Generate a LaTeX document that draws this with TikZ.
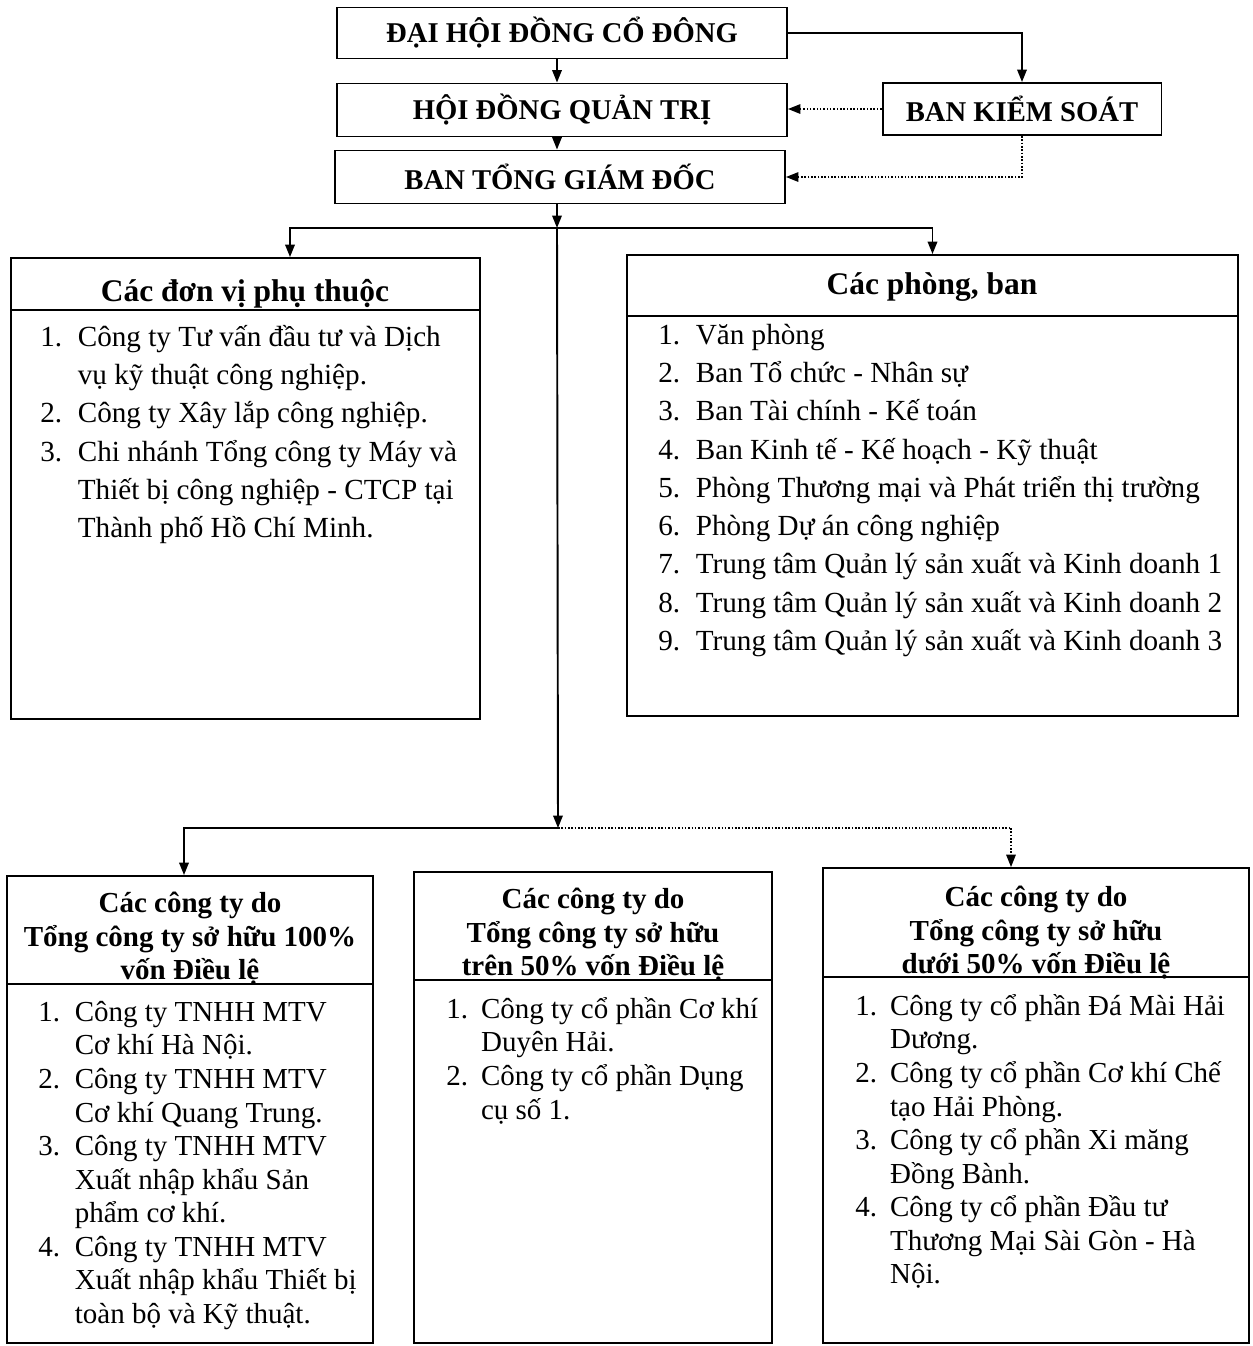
\documentclass[tikz,border=0pt]{standalone}
\usepackage{fontspec}
\setmainfont{Liberation Serif}
\usetikzlibrary{arrows.meta}
\newcommand{\bodyfont}{\fontsize{16.6}{21.8}\selectfont}
\newcommand{\smallbody}{\fontsize{16.5}{19.1}\selectfont}

\begin{document}
\begin{tikzpicture}[x=0.02cm,y=-0.02cm,
    box/.style={draw,line width=1.1pt,inner sep=0pt},
    title/.style={font=\fontsize{16.3}{19}\selectfont\bfseries},
    head/.style={font=\fontsize{17.9}{21}\selectfont\bfseries,inner sep=0pt},
    subhead/.style={font=\fontsize{16.5}{19.1}\selectfont\bfseries,align=center,inner sep=0pt},
    list/.style={anchor=north west,inner sep=0pt},
    arr/.style={line width=1.1pt,-{Triangle[length=0.25cm,width=0.19cm]}},
    dotarr/.style={line width=0.9pt,densely dotted,-{Triangle[length=0.25cm,width=0.19cm]}},
    dotline/.style={line width=0.9pt,densely dotted}]
      \useasboundingbox (0,0) rectangle (1252,1346);
      \node[box,title,minimum width=9cm,minimum height=1.02cm](dh) at (562,33) {ĐẠI HỘI ĐỒNG CỔ ĐÔNG};
      \node[box,title,minimum width=9cm,minimum height=1.06cm](qt) at (562,110) {HỘI ĐỒNG QUẢN TRỊ};
      \node[box,title,minimum width=9cm,minimum height=1.06cm](gd) at (560,177) {BAN TỔNG GIÁM ĐỐC};
      \node[box,title,minimum width=5.58cm,minimum height=1.04cm](ks) at (1022,109) {BAN KIỂM SOÁT};
      \node[box,minimum width=9.38cm,minimum height=9.22cm](dv) at (245.5,488.5) {};
      \node[box,minimum width=12.22cm,minimum height=9.22cm](pb) at (932.5,485.5) {};
      \node[box,minimum width=7.32cm,minimum height=9.34cm](ct1) at (190,1109.5) {};
      \node[box,minimum width=7.16cm,minimum height=9.42cm](ct2) at (593,1107.5) {};
      \node[box,minimum width=8.52cm,minimum height=9.5cm](ct3) at (1036,1105.5) {};
      \draw[line width=1.1pt] (dv.west |- 0,310) -- (dv.east |- 0,310);
      \draw[line width=1.1pt] (pb.west |- 0,316) -- (pb.east |- 0,316);
      \draw[line width=1.1pt] (ct1.west |- 0,984) -- (ct1.east |- 0,984);
      \draw[line width=1.1pt] (ct2.west |- 0,980) -- (ct2.east |- 0,980);
      \draw[line width=1.1pt] (ct3.west |- 0,977) -- (ct3.east |- 0,977);
      \node[head](dvh) at (245,294) {Các đơn vị phụ thuộc};
      \node[head](pbh) at (932,287) {Các phòng, ban};
      \node[subhead](ct1h) at (190,939) {Các công ty do\\Tổng công ty sở hữu 100\%\\vốn Điều lệ};
      \node[subhead](ct2h) at (593,935) {Các công ty do\\Tổng công ty sở hữu\\trên 50\% vốn Điều lệ};
      \node[subhead](ct3h) at (1036,933) {Các công ty do\\Tổng công ty sở hữu\\dưới 50\% vốn Điều lệ};
      \node[list,font=\bodyfont](dvl) at (40,319) {\begin{tabular}{@{}l@{\hspace{8.9pt}}l@{}}
        1. & Công ty Tư vấn đầu tư và Dịch\\
           & vụ kỹ thuật công nghiệp.\\
        2. & Công ty Xây lắp công nghiệp.\\
        3. & Chi nhánh Tổng công ty Máy và\\
           & Thiết bị công nghiệp - CTCP tại\\
           & Thành phố Hồ Chí Minh.
      \end{tabular}};
      \node[list,font=\bodyfont](pbl) at (658,317) {\begin{tabular}{@{}l@{\hspace{8.9pt}}l@{}}
        1. & Văn phòng\\
        2. & Ban Tổ chức - Nhân sự\\
        3. & Ban Tài chính - Kế toán\\
        4. & Ban Kinh tế - Kế hoạch - Kỹ thuật\\
        5. & Phòng Thương mại và Phát triển thị trường\\
        6. & Phòng Dự án công nghiệp\\
        7. & Trung tâm Quản lý sản xuất và Kinh doanh 1\\
        8. & Trung tâm Quản lý sản xuất và Kinh doanh 2\\
        9. & Trung tâm Quản lý sản xuất và Kinh doanh 3
      \end{tabular}};
      \node[list,font=\smallbody](ct1l) at (38,997.5) {\begin{tabular}{@{}l@{\hspace{8.4pt}}l@{}}
        1. & Công ty TNHH MTV\\
           & Cơ khí Hà Nội.\\
        2. & Công ty TNHH MTV\\
           & Cơ khí Quang Trung.\\
        3. & Công ty TNHH MTV\\
           & Xuất nhập khẩu Sản\\
           & phẩm cơ khí.\\
        4. & Công ty TNHH MTV\\
           & Xuất nhập khẩu Thiết bị\\
           & toàn bộ và Kỹ thuật.
      \end{tabular}};
      \node[list,font=\smallbody](ct2l) at (446,994.5) {\begin{tabular}{@{}l@{\hspace{7.4pt}}l@{}}
        1. & Công ty cổ phần Cơ khí\\
           & Duyên Hải.\\
        2. & Công ty cổ phần Dụng\\
           & cụ số 1.
      \end{tabular}};
      \node[list,font=\smallbody](ct3l) at (855,991.5) {\begin{tabular}{@{}l@{\hspace{7.4pt}}l@{}}
        1. & Công ty cổ phần Đá Mài Hải\\
           & Dương.\\
        2. & Công ty cổ phần Cơ khí Chế\\
           & tạo Hải Phòng.\\
        3. & Công ty cổ phần Xi măng\\
           & Đồng Bành.\\
        4. & Công ty cổ phần Đầu tư\\
           & Thương Mại Sài Gòn - Hà\\
           & Nội.
      \end{tabular}};
      \coordinate(fork1) at (557,228);
      \coordinate(fork2) at (558,828);
      \coordinate(left1) at (290,228);
      \coordinate(left2) at (184,828);
      \coordinate(right2) at (1011,828);
      \draw[arr] (dh.south -| fork1) -- (qt.north -| fork1);
      \draw[arr] (qt.south -| fork1) -- (gd.north -| fork1);
      \draw[arr] (dh.east) -| (ks.north);
      \draw[dotarr] (ks.west) -- (ks.west -| qt.east);
      \draw[dotarr] (ks.south) |- (gd.east);
      \draw[arr] (gd.south -| fork1) -- (fork1);
      \draw[arr] (fork1) -- (left1) -- (left1 |- dv.north);
      \draw[arr] (fork1) -| (pb.north);
      \draw[arr] (fork1) -- (fork2);
      \draw[arr] (fork2) -- (left2) -- (left2 |- ct1.north);
      \draw[dotline] (fork2) -- (right2);
      \draw[dotarr] (right2) -- (right2 |- ct3.north);
    \end{tikzpicture}
\end{document}
